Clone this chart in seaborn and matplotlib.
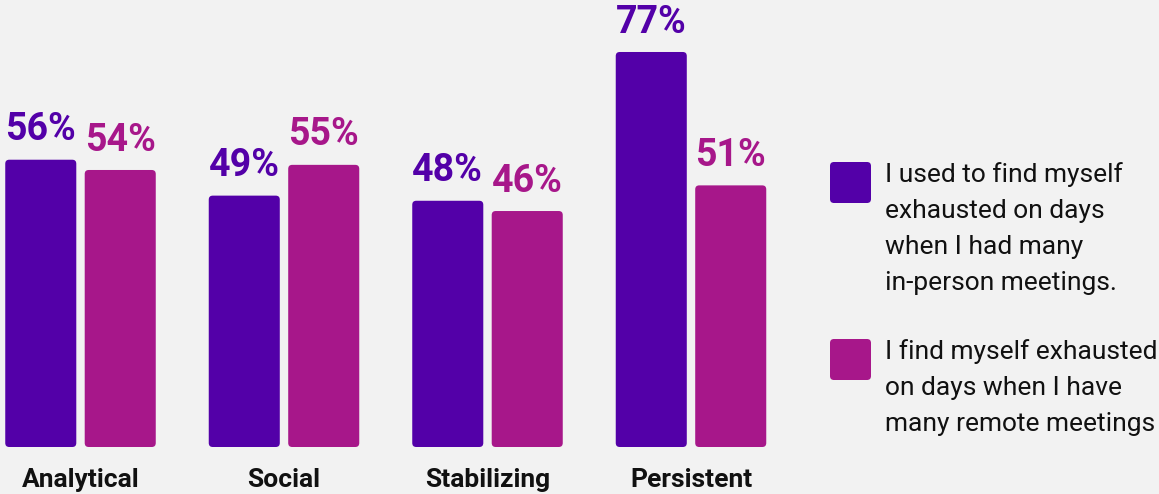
import matplotlib
matplotlib.use("Agg")
import matplotlib.pyplot as plt
import seaborn as sns
import pandas as pd
from matplotlib.patches import FancyBboxPatch

categories = ["Analytical", "Social", "Stabilizing", "Persistent"]
in_person = [56, 49, 48, 77]
remote = [54, 55, 46, 51]
series = ["I used to find myself\nexhausted on days\nwhen I had many\nin-person meetings.",
          "I find myself exhausted\non days when I have\nmany remote meetings"]
colors = ["#5300A8", "#A7178A"]

df = pd.DataFrame({
    "category": categories * 2,
    "value": in_person + remote,
    "series": [series[0]] * 4 + [series[1]] * 4,
})

bg = "#F2F2F2"
sns.set_theme(style="white", rc={"axes.facecolor": bg, "figure.facecolor": bg})
plt.rcParams["font.family"] = ["Roboto", "DejaVu Sans"]

W, H = 1159, 494
fig = plt.figure(figsize=(W / 100, H / 100), dpi=100)
ax = fig.add_axes([0, 47 / H, 790 / W, 447 / H])

sns.barplot(data=df, x="category", y="value", hue="series", palette=colors,
            width=0.781, gap=0.106, ax=ax, legend=False, saturation=1)

x0 = -80.5 / 203.5
x1 = x0 + 790 / 203.5
ytop = 447 / 5.13
ax.set_xlim(x0, x1)
ax.set_ylim(0, ytop)

# value labels
for cont, col in zip(ax.containers, colors):
    for bar in cont:
        h = bar.get_height()
        ax.annotate(f"{h:.0f}%", (bar.get_x() + bar.get_width() / 2, h),
                    xytext=(0, 14), textcoords="offset points",
                    ha="center", va="baseline", fontsize=27,
                    fontweight="bold", color=col)

# rounded bars
xpp = (x1 - x0) / 790
ypp = ytop / 447
r = 4
for bar in list(ax.patches):
    x, y = bar.get_x(), bar.get_y()
    w, h = bar.get_width(), bar.get_height()
    fc = bar.get_facecolor()
    bar.set_visible(False)
    ax.add_patch(FancyBboxPatch((x, y), w, h,
                                boxstyle=f"round,pad=0,rounding_size={r * xpp}",
                                mutation_aspect=ypp / xpp, fc=fc, ec="none"))

ax.set_xlabel("")
ax.set_ylabel("")
ax.set_yticks([])
sns.despine(ax=ax, left=True, bottom=True)
ax.tick_params(axis="x", length=0, pad=15)
for lab in ax.get_xticklabels():
    lab.set_fontsize(19)
    lab.set_fontweight("bold")
    lab.set_color("#111111")

# legend drawn in pixel space
lax = fig.add_axes([0, 0, 1, 1])
lax.set_xlim(0, W)
lax.set_ylim(H, 0)
lax.axis("off")
lax.patch.set_alpha(0)
for top, label, col in zip([162, 339], series, colors):
    lax.add_patch(FancyBboxPatch((830, top), 41, 41,
                                 boxstyle="round,pad=0,rounding_size=4",
                                 fc=col, ec="none"))
    lax.text(885, top, label, ha="left", va="top", fontsize=19,
             color="#111111", linespacing=1.64)

fig.savefig("out.png", dpi=100, facecolor=bg)
